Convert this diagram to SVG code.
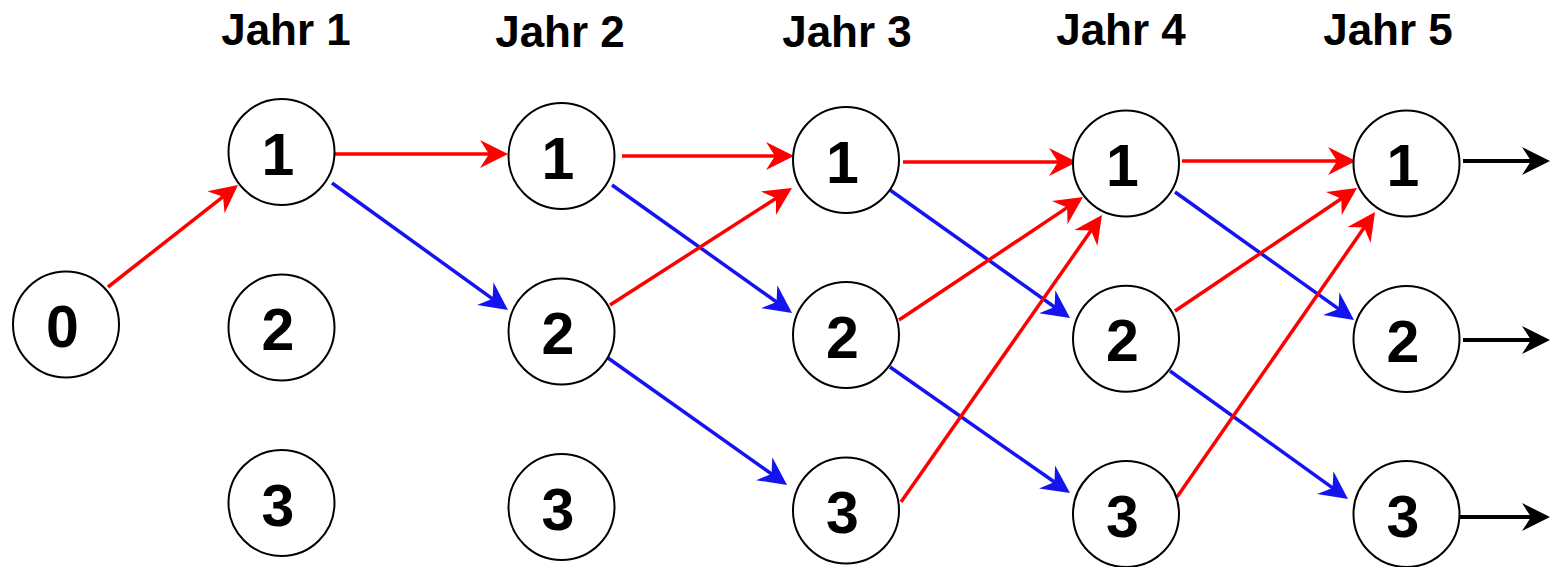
<svg xmlns="http://www.w3.org/2000/svg" width="1551" height="567" viewBox="0 0 1551 567">
  <style>
    .node circle { fill: #ffffff; stroke: #000000; stroke-width: 2; }
    .node text { font-family: "Liberation Sans", Arial, sans-serif; font-weight: bold; font-size: 59px; text-anchor: middle; fill: #000000; }
    .year { font-family: "Liberation Sans", Arial, sans-serif; font-weight: bold; font-size: 44px; text-anchor: middle; fill: #000000; }
    .up { stroke: #ff0000; stroke-width: 3.5; fill: none; marker-end: url(#head-red); }
    .down { stroke: #1414f0; stroke-width: 3.5; fill: none; marker-end: url(#head-blue); }
    .out { stroke: #000000; stroke-width: 4; fill: none; marker-end: url(#head-black); }
  </style>
  <defs>
    <marker id="head-red" markerUnits="userSpaceOnUse" markerWidth="32" markerHeight="32" viewBox="0 -16 32 32" refX="12" refY="0" orient="auto" overflow="visible">
      <path d="M0,-14 L28,0 L0,14 L9,0 Z" fill="#ff0000"/>
    </marker>
    <marker id="head-blue" markerUnits="userSpaceOnUse" markerWidth="32" markerHeight="32" viewBox="0 -16 32 32" refX="12" refY="0" orient="auto" overflow="visible">
      <path d="M0,-14 L28,0 L0,14 L9,0 Z" fill="#1414f0"/>
    </marker>
    <marker id="head-black" markerUnits="userSpaceOnUse" markerWidth="32" markerHeight="32" viewBox="0 -16 32 32" refX="12" refY="0" orient="auto" overflow="visible">
      <path d="M0,-14 L28,0 L0,14 L9,0 Z" fill="#000000"/>
    </marker>
  </defs>

  <!-- column headings -->
  <g id="headings">
    <text class="year" x="286" y="45">Jahr 1</text>
    <text class="year" x="560" y="46.7">Jahr 2</text>
    <text class="year" x="847" y="46.7">Jahr 3</text>
    <text class="year" x="1121" y="45">Jahr 4</text>
    <text class="year" x="1388" y="45">Jahr 5</text>
  </g>

  <!-- transitions: red = move to state 1, blue = move one state down, black = continues -->
  <g id="connectors">
    <line class="up" x1="108" y1="287" x2="225.4" y2="194.9"/>
    <line class="up" x1="335" y1="154" x2="492" y2="154"/>
    <line class="down" x1="332" y1="183" x2="495" y2="300.6"/>

    <line class="up" x1="622" y1="156" x2="778" y2="156"/>
    <line class="down" x1="612" y1="185" x2="779" y2="303.7"/>
    <line class="up" x1="610" y1="305" x2="778.5" y2="196.7"/>
    <line class="down" x1="608" y1="358" x2="774" y2="475.7"/>

    <line class="up" x1="903" y1="162" x2="1061" y2="162"/>
    <line class="down" x1="890" y1="190" x2="1057" y2="308.7"/>
    <line class="up" x1="899" y1="320" x2="1069.7" y2="205.9"/>
    <line class="down" x1="890" y1="367" x2="1056.9" y2="483.8"/>
    <line class="up" x1="901" y1="502" x2="1092.8" y2="228.1"/>

    <line class="up" x1="1182" y1="161" x2="1340" y2="161"/>
    <line class="down" x1="1175" y1="192" x2="1341" y2="310.7"/>
    <line class="up" x1="1175" y1="311" x2="1343.8" y2="197"/>
    <line class="down" x1="1170" y1="371" x2="1335" y2="489.7"/>
    <line class="up" x1="1177" y1="497" x2="1365.9" y2="225.1"/>

    <line class="out" x1="1463" y1="161" x2="1534" y2="161"/>
    <line class="out" x1="1463" y1="340" x2="1534" y2="340"/>
    <line class="out" x1="1460" y1="517" x2="1534" y2="517"/>
  </g>

  <!-- start state -->
  <g id="n0" class="node"><circle cx="66" cy="324.5" r="53"/><text x="62.5" y="347">0</text></g>

  <!-- year 1 -->
  <g id="y1s1" class="node"><circle cx="281.5" cy="152" r="53"/><text x="278" y="174.5">1</text></g>
  <g id="y1s2" class="node"><circle cx="281.5" cy="327.5" r="53"/><text x="278" y="350">2</text></g>
  <g id="y1s3" class="node"><circle cx="281.5" cy="503" r="53"/><text x="278" y="525.5">3</text></g>

  <!-- year 2 -->
  <g id="y2s1" class="node"><circle cx="561.5" cy="156" r="53"/><text x="558" y="178.5">1</text></g>
  <g id="y2s2" class="node"><circle cx="561.5" cy="331.5" r="53"/><text x="558" y="354">2</text></g>
  <g id="y2s3" class="node"><circle cx="561.5" cy="507" r="53"/><text x="558" y="529.5">3</text></g>

  <!-- year 3 -->
  <g id="y3s1" class="node"><circle cx="846" cy="160" r="53"/><text x="842.5" y="182.5">1</text></g>
  <g id="y3s2" class="node"><circle cx="846" cy="335" r="53"/><text x="842.5" y="357.5">2</text></g>
  <g id="y3s3" class="node"><circle cx="846" cy="510.5" r="53"/><text x="842.5" y="533">3</text></g>

  <!-- year 4 -->
  <g id="y4s1" class="node"><circle cx="1126" cy="163.5" r="53"/><text x="1122.5" y="186">1</text></g>
  <g id="y4s2" class="node"><circle cx="1126" cy="338.7" r="53"/><text x="1122.5" y="361.2">2</text></g>
  <g id="y4s3" class="node"><circle cx="1126" cy="514" r="53"/><text x="1122.5" y="536.5">3</text></g>

  <!-- year 5 -->
  <g id="y5s1" class="node"><circle cx="1406.5" cy="163.5" r="53"/><text x="1403" y="186">1</text></g>
  <g id="y5s2" class="node"><circle cx="1406.5" cy="339" r="53"/><text x="1403" y="361.5">2</text></g>
  <g id="y5s3" class="node"><circle cx="1406.5" cy="514" r="53"/><text x="1403" y="536.5">3</text></g>
</svg>
